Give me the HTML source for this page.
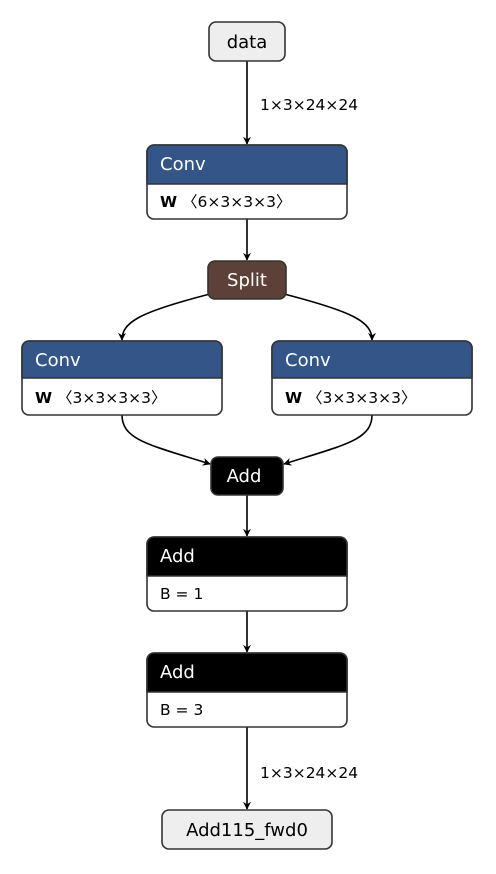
<!DOCTYPE html>
<html><head><meta charset="utf-8"><style>
html,body{margin:0;padding:0;background:#fff;}
svg{display:block;font-family:"DejaVu Sans","Liberation Sans",sans-serif;}
</style></head><body>
<svg width="496" height="874" viewBox="0 0 496 874" xmlns="http://www.w3.org/2000/svg">
<defs>
<marker id="a" viewBox="0 0 10 10" refX="9" refY="5" markerWidth="8" markerHeight="8" orient="auto" markerUnits="userSpaceOnUse">
<path d="M0,0 L10,5 L0,10 L3,5 z" fill="#000"/></marker>
</defs>
<g fill="none" stroke="#000" stroke-width="1.6" marker-end="url(#a)">
<path d="M247,61 V144"/>
<path d="M247,219 V260"/>
<path d="M210,294 C140,312 122,322 122,340"/>
<path d="M284,294 C354,312 372,322 372,340"/>
<path d="M122,415 C122,440 150,445 210,464"/>
<path d="M372,415 C372,440 344,445 284,464"/>
<path d="M247,495 V536"/>
<path d="M247,611 V652"/>
<path d="M247,727 V809"/>
</g>
<g stroke="#333" stroke-width="1.6">
<rect x="209" y="22" width="76" height="39" rx="7" fill="#eeeeee"/>
<rect x="147" y="145" width="200" height="74" rx="7" fill="#fff"/>
<path d="M147,184 V152 a7,7 0 0 1 7,-7 H340 a7,7 0 0 1 7,7 V184 Z" fill="#335587"/>
<rect x="208" y="261" width="78" height="38" rx="7" fill="#5d4037"/>
<rect x="22" y="341" width="200" height="74" rx="7" fill="#fff"/>
<path d="M22,378 V348 a7,7 0 0 1 7,-7 H215 a7,7 0 0 1 7,7 V378 Z" fill="#335587"/>
<rect x="272" y="341" width="200" height="74" rx="7" fill="#fff"/>
<path d="M272,378 V348 a7,7 0 0 1 7,-7 H465 a7,7 0 0 1 7,7 V378 Z" fill="#335587"/>
<rect x="211" y="457" width="72" height="38" rx="7" fill="#000"/>
<rect x="147" y="537" width="200" height="74" rx="7" fill="#fff"/>
<path d="M147,576 V544 a7,7 0 0 1 7,-7 H340 a7,7 0 0 1 7,7 V576 Z" fill="#000"/>
<rect x="147" y="653" width="200" height="74" rx="7" fill="#fff"/>
<path d="M147,692 V660 a7,7 0 0 1 7,-7 H340 a7,7 0 0 1 7,7 V692 Z" fill="#000"/>
<rect x="162" y="810" width="170" height="39" rx="7" fill="#eeeeee"/>
</g>
<g font-size="18">
<text x="247" y="48" text-anchor="middle" fill="#000">data</text>
<text x="160" y="170" fill="#fff">Conv</text>
<text x="247" y="286" text-anchor="middle" fill="#fff">Split</text>
<text x="35" y="366" fill="#fff">Conv</text>
<text x="285" y="366" fill="#fff">Conv</text>
<text x="244" y="482" text-anchor="middle" fill="#fff">Add</text>
<text x="160" y="562" fill="#fff">Add</text>
<text x="160" y="678" fill="#fff">Add</text>
<text x="247" y="836" text-anchor="middle" fill="#000">Add115_fwd0</text>
</g>
<g font-size="15.5" fill="#000">
<text x="260" y="110">1×3×24×24</text>
<text x="260" y="778">1×3×24×24</text>
<text x="160" y="207"><tspan font-weight="bold">W</tspan> 〈6×3×3×3〉</text>
<text x="35" y="403"><tspan font-weight="bold">W</tspan> 〈3×3×3×3〉</text>
<text x="285" y="403"><tspan font-weight="bold">W</tspan> 〈3×3×3×3〉</text>
<text x="160" y="599">B = 1</text>
<text x="160" y="715">B = 3</text>
</g>
</svg>
</body></html>
